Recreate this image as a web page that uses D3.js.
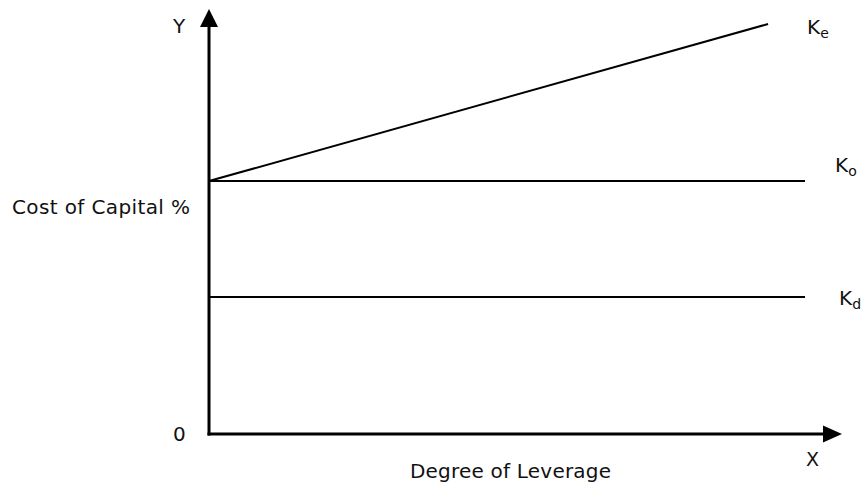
<!DOCTYPE html>
<html>
<head>
<meta charset="utf-8">
<script src="https://cdn.jsdelivr.net/npm/d3@7"></script>
<style>
  html, body { margin: 0; padding: 0; background: #fff; }
  svg { display: block; }
  text { font-family: "DejaVu Sans", sans-serif; fill: #111; }
</style>
</head>
<body>
<svg id="chart" width="862" height="482"></svg>
<script>
// Cost of capital (%) against degree of leverage
const leverage = [0, 10];
const keEnd = 9.38;
const costKo = 11.93;
const costKd = 6.46;
const costKeEnd = 19.34;

const lines = [
  { name: "Ke", sub: "e", points: [[0, costKo], [keEnd, costKeEnd]] },
  { name: "Ko", sub: "o", points: [[0, costKo], [leverage[1], costKo]] },
  { name: "Kd", sub: "d", points: [[0, costKd], [leverage[1], costKd]] }
];

const svg = d3.select("#chart");
const x = d3.scaleLinear().domain([0, 10]).range([209, 805]);
const y = d3.scaleLinear().domain([0, 20]).range([434, 10]);

const line = d3.line().x(d => x(d[0])).y(d => y(d[1]));

// data lines
svg.selectAll("path.series")
  .data(lines)
  .enter().append("path")
  .attr("class", "series")
  .attr("d", d => line(d.points))
  .attr("fill", "none")
  .attr("stroke", "#000")
  .attr("stroke-width", 2);

// axes with arrowheads
const x0 = x(0), y0 = y(0);
const yTop = 9, xEnd = 842;
svg.append("path")
  .attr("d", `M${x0},${y0 + 1.5}V${yTop + 16}`)
  .attr("stroke", "#000").attr("stroke-width", 3);
svg.append("path")
  .attr("d", `M${x0 - 1.5},${y0}H${xEnd - 18}`)
  .attr("stroke", "#000").attr("stroke-width", 3);
svg.append("path")
  .attr("d", `M${x0},${yTop}L${x0 + 9},${yTop + 18}L${x0 - 9},${yTop + 18}Z`)
  .attr("fill", "#000");
svg.append("path")
  .attr("d", `M${xEnd},${y0}L${xEnd - 19},${y0 + 8.5}L${xEnd - 19},${y0 - 8.5}Z`)
  .attr("fill", "#000");

// series labels with subscripts
const labelPos = { Ke: [807, 34], Ko: [835, 172], Kd: [839, 305] };
lines.forEach(d => {
  const t = svg.append("text")
    .attr("x", labelPos[d.name][0])
    .attr("y", labelPos[d.name][1])
    .attr("font-size", 20);
  t.append("tspan").text("K");
  t.append("tspan").attr("dy", 4).attr("font-size", 14).text(d.sub);
});

// axis letters and titles
svg.append("text").attr("x", 173).attr("y", 33).attr("font-size", 20).text("Y");
svg.append("text").attr("x", 806).attr("y", 466).attr("font-size", 19).text("X");
svg.append("text").attr("x", 173).attr("y", 441).attr("font-size", 20).text("0");
svg.append("text").attr("x", 12).attr("y", 214).attr("font-size", 20)
  .attr("textLength", 178).attr("lengthAdjust", "spacing").text("Cost of Capital %");
svg.append("text").attr("x", 410).attr("y", 478).attr("font-size", 20)
  .attr("textLength", 201).attr("lengthAdjust", "spacing").text("Degree of Leverage");
</script>
</body>
</html>
